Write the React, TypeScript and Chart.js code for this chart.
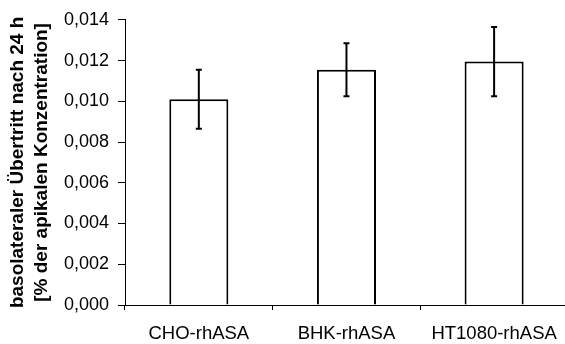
import React, { useEffect, useRef } from "react";
import { Chart, registerables } from "chart.js";

Chart.register(...registerables);

const categories = ["CHO-rhASA", "BHK-rhASA", "HT1080-rhASA"];
const values = [0.0101, 0.01155, 0.01195];
const errors = [0.00145, 0.0013, 0.0017];
const yTitle = ["basolateraler Übertritt nach 24 h", "[% der apikalen Konzentration]"];

const FONT = "'Liberation Sans', Arial, sans-serif";

const errorBarPlugin = {
  id: "errorBars",
  afterDatasetsDraw(chart: any) {
    const ctx = chart.ctx;
    const meta = chart.getDatasetMeta(0);
    const yScale = chart.scales.y;
    ctx.save();
    ctx.strokeStyle = "#000";
    ctx.lineWidth = 2;
    meta.data.forEach((bar: any, i: number) => {
      const x = bar.x;
      const yTop = yScale.getPixelForValue(values[i] + errors[i]);
      const yBot = yScale.getPixelForValue(values[i] - errors[i]);
      ctx.beginPath();
      ctx.moveTo(x, yTop);
      ctx.lineTo(x, yBot);
      ctx.moveTo(x - 3, yTop);
      ctx.lineTo(x + 3, yTop);
      ctx.moveTo(x - 3, yBot);
      ctx.lineTo(x + 3, yBot);
      ctx.stroke();
    });
    ctx.restore();
  },
};

export default function App() {
  const ref = useRef<HTMLCanvasElement>(null);
  useEffect(() => {
    if (!ref.current) return;
    const chart = new Chart(ref.current, {
      type: "bar",
      data: {
        labels: categories,
        datasets: [
          {
            data: values,
            backgroundColor: "#ffffff",
            borderColor: "#000000",
            borderWidth: 2,
            barPercentage: 0.4,
            categoryPercentage: 1,
          },
        ],
      },
      options: {
        animation: false,
        responsive: false,
        maintainAspectRatio: false,
        layout: { padding: { top: 18, right: 1, left: 0, bottom: 0 } },
        plugins: { legend: { display: false }, tooltip: { enabled: false } },
        scales: {
          x: {
            grid: {
              display: true,
              drawOnChartArea: false,
              drawTicks: true,
              tickLength: 5,
              color: "#000",
              offset: true,
            },
            border: { color: "#000", width: 1 },
            ticks: {
              color: "#000",
              padding: 13,
              font: { family: FONT, size: 18.5 },
            },
            afterFit: (s: any) => {
              s.height = 39;
            },
          },
          y: {
            min: 0,
            max: 0.014,
            grid: {
              display: true,
              drawOnChartArea: false,
              drawTicks: true,
              tickLength: 7,
              color: "#000",
            },
            border: { color: "#000", width: 1 },
            ticks: {
              stepSize: 0.002,
              color: "#000",
              padding: 9,
              font: { family: FONT, size: 18 },
              callback: (v: any) => Number(v).toFixed(3).replace(".", ","),
            },
            title: {
              display: true,
              text: yTitle,
              color: "#000",
              padding: { top: 6, bottom: 0 },
              font: { family: FONT, size: 19, weight: "bold", lineHeight: 24 / 19 },
            },
            afterFit: (s: any) => {
              s.width = 125;
            },
          },
        },
      },
      plugins: [errorBarPlugin],
    });
    return () => chart.destroy();
  }, []);
  return (
    <div
      style={{
        position: "fixed",
        left: 0,
        top: 0,
        width: 565,
        height: 344,
        overflow: "hidden",
        background: "#fff",
      }}
    >
      <canvas ref={ref} width={570} height={344} style={{ display: "block" }} />
    </div>
  );
}
